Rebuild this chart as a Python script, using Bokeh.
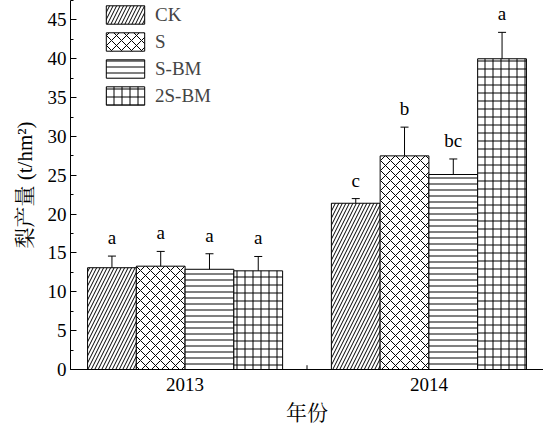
from bokeh.plotting import figure
from bokeh.models import ColumnDataSource, Whisker, Range1d, FactorRange, Legend, LegendItem, SingleIntervalTicker, TeeHead
from bokeh.transform import dodge
from bokeh.embed import file_html
from bokeh.resources import INLINE

years = ["2013", "2014"]
treatments = ["CK", "S", "S-BM", "2S-BM"]
ck = [13.1, 21.4]
s = [13.3, 27.5]
sbm = [12.9, 25.1]
s2bm = [12.7, 40.0]
ck_err = [1.5, 0.6]
s_err = [1.9, 3.7]
sbm_err = [2.0, 2.0]
s2bm_err = [1.85, 3.4]
ck_sig = ["a", "c"]
s_sig = ["a", "b"]
sbm_sig = ["a", "bc"]
s2bm_sig = ["a", "a"]

SERIF = "Liberation Serif"
CJK = "'Liberation Serif', 'Noto Serif CJK SC', 'Noto Sans CJK SC'"

FH = 369
xr = FactorRange(*years, range_padding=-0.03, range_padding_units="absolute")
p = figure(frame_width=473, frame_height=FH, x_range=xr,
           y_range=Range1d(0, 47.5), output_backend="svg", toolbar_location=None,
           min_border_left=70, min_border_right=0, min_border_top=0, min_border_bottom=50)
p.outline_line_color = None
p.xgrid.visible = False
p.ygrid.visible = False

series = [
    ("CK", ck, ck_err, ck_sig, "right_diagonal_line", 7, -0.3),
    ("S", s, s_err, s_sig, "diagonal_cross", 10, -0.1),
    ("S-BM", sbm, sbm_err, sbm_sig, "horizontal_line", 6, 0.1),
    ("2S-BM", s2bm, s2bm_err, s2bm_sig, "cross", 8, 0.3),
]

items = []
for name, vals, errs, sigs, hatch, hscale, off in series:
    src = ColumnDataSource(dict(
        x=years, y=vals,
        lo=[v - e for v, e in zip(vals, errs)],
        hi=[v + e for v, e in zip(vals, errs)],
        sig=sigs))
    r = p.vbar(x=dodge("x", off, range=p.x_range), top="y", width=0.2, source=src,
               fill_color="white", line_color="black", line_width=1,
               hatch_pattern=hatch, hatch_scale=hscale, hatch_color="black", hatch_weight=1)
    items.append(LegendItem(label=name, renderers=[r]))
    w = Whisker(base=dodge("x", off, range=p.x_range), upper="hi", lower="lo", source=src,
                line_color="black", line_width=1,
                upper_head=TeeHead(size=8, line_color="black", line_width=1),
                lower_head=TeeHead(size=8, line_color="black", line_width=1))
    p.add_layout(w)
    p.text(x=dodge("x", off, range=p.x_range), y="hi", text="sig", source=src,
           text_align="center", text_baseline="bottom", y_offset=-8,
           text_font={"value": SERIF}, text_font_size="19px", text_color="black")

# small inward tick at the boundary between the two year categories
bsrc = ColumnDataSource(dict(x=years[1:], y0=[0], y1=[0.55]))
p.segment(x0=dodge("x", -0.5, range=p.x_range), x1=dodge("x", -0.5, range=p.x_range),
          y0="y0", y1="y1", source=bsrc, line_color="black", line_width=1)

legend = Legend(items=items, location=(31, FH - 107), glyph_width=48, glyph_height=23,
                label_text_font=SERIF, label_text_font_size="19px",
                label_standoff=6, spacing=4, padding=0, margin=0,
                border_line_color=None, background_fill_alpha=0)
p.add_layout(legend)

p.yaxis.ticker = SingleIntervalTicker(interval=5, num_minor_ticks=2)
for ax in [p.xaxis[0], p.yaxis[0]]:
    ax.axis_line_color = "black"
    ax.axis_line_width = 1
    ax.major_label_text_font = SERIF
    ax.major_label_text_font_size = "19px"
    ax.major_label_text_color = "black"
    ax.axis_label_text_font = CJK
    ax.axis_label_text_font_size = "21px"
    ax.axis_label_text_font_style = "normal"
    ax.axis_label_text_color = "black"
p.yaxis.major_tick_in = 6
p.yaxis.major_tick_out = 0
p.yaxis.minor_tick_in = 3
p.yaxis.minor_tick_out = 0
p.yaxis.major_tick_line_color = "black"
p.yaxis.minor_tick_line_color = "black"
p.yaxis.major_label_standoff = 4
p.yaxis.axis_label = "梨产量 (t/hm²)"
p.yaxis.axis_label_standoff = 8
p.xaxis.major_tick_in = 0
p.xaxis.major_tick_out = 0
p.xaxis.major_label_standoff = 8
p.xaxis.axis_label = "年份"
p.xaxis.axis_label_standoff = 7

open("out.html", "w").write(file_html(p, INLINE))
